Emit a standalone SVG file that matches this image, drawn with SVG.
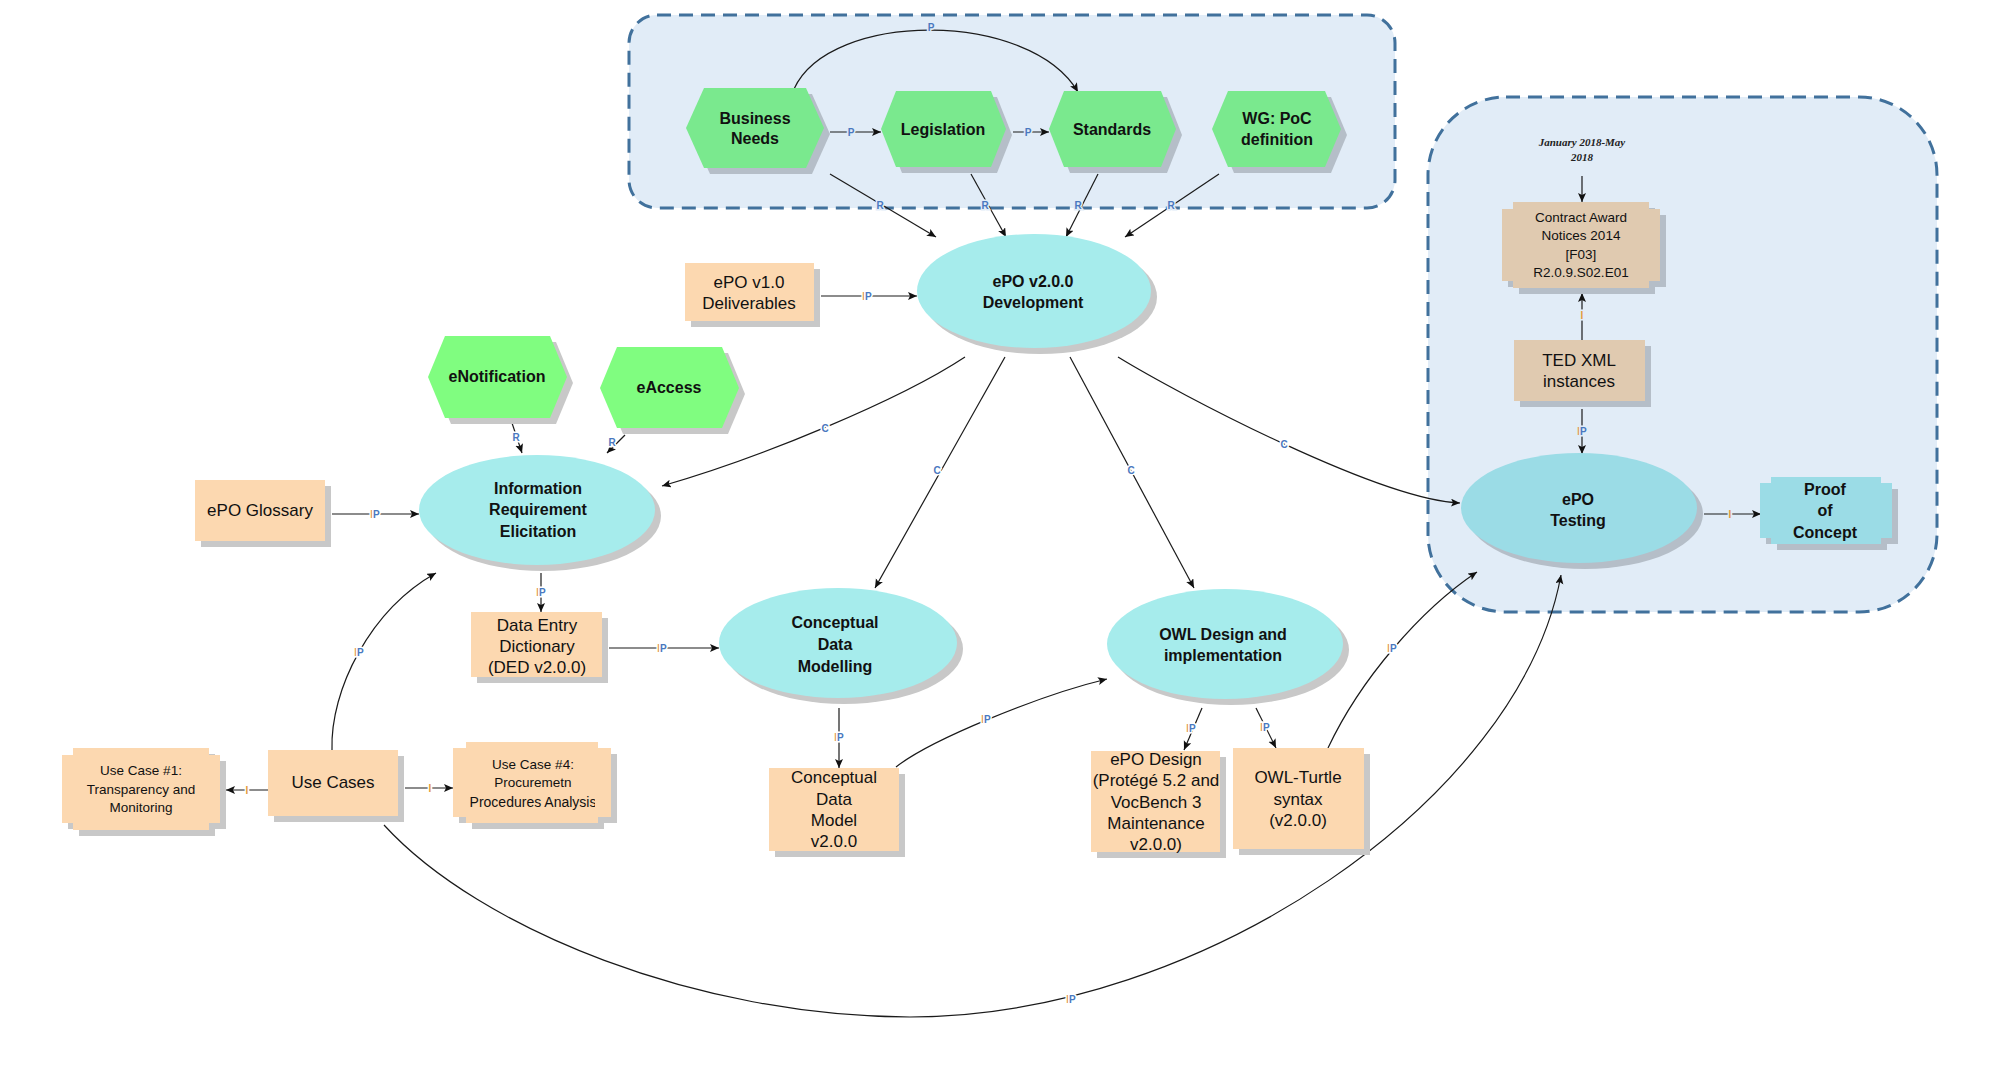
<svg xmlns="http://www.w3.org/2000/svg" width="2000" height="1065" viewBox="0 0 2000 1065">
<defs>
<marker id="arr" markerWidth="10" markerHeight="10" refX="9" refY="4" orient="auto" markerUnits="userSpaceOnUse"><path d="M0,0 L9,4 L0,8 L2,4 z" fill="#111"/></marker>
<clipPath id="uc4clip"><rect x="453" y="742" width="142" height="81"/></clipPath>
</defs>
<style>
.t{font-family:"Liberation Sans",Arial,sans-serif;fill:#111;text-anchor:middle;dominant-baseline:central}
.b{font-weight:bold;font-size:16px}
.r{font-size:17px}
.s{font-size:13.5px}
.xs{font-size:13.5px}
.uc{font-size:14px}
.jan{font-family:"Liberation Serif","Times New Roman",serif;font-style:italic;font-weight:bold;font-size:11px;fill:#222;text-anchor:middle;dominant-baseline:central}
.grp{fill:#E1ECF7;stroke:#41719C;stroke-width:3;stroke-dasharray:14 8}
.hexT{fill:#7AE98E}
.hexE{fill:#80FD80}
.shW{fill:#C8C8C8}
.shB{fill:#B5BEC8}
.ell{fill:#A6ECEC}
.ellT{fill:#9BDCE6}
.peach{fill:#FCD8B0}
.tan{fill:#E0CAB0}
.c{stroke:#1a1a1a;stroke-width:1.2;fill:none;marker-end:url(#arr)}
.l{font-family:"Liberation Sans",Arial,sans-serif;font-size:10px;font-weight:bold;fill:#4a78c0;text-anchor:middle;dominant-baseline:central;stroke:#fff;stroke-width:3;paint-order:stroke}
.lb{stroke:#E1ECF7}
.o{fill:#E39A3B}
</style>

<g id="groups">
<rect id="grp-top" class="grp" x="629" y="15" width="766" height="193" rx="28"/>
<rect id="grp-right" class="grp" x="1428" y="97" width="509" height="515" rx="78"/>
</g>

<g id="connectors">
<path class="c" d="M830,132 H881"/>
<path class="c" d="M1013,132 H1049"/>
<path class="c" d="M794,89 C830,10 1030,10 1078,92"/>
<path class="c" d="M830,174 L936,237"/>
<path class="c" d="M971,174 L1006,237"/>
<path class="c" d="M1098,174 L1066,237"/>
<path class="c" d="M1219,174 L1125,237"/>
<path class="c" d="M821,296 H917"/>
<path class="c" d="M965,357 C900,400 760,458 662,486"/>
<path class="c" d="M1005,357 L875,588"/>
<path class="c" d="M1070,357 L1194,588"/>
<path class="c" d="M1118,357 C1180,395 1380,500 1460,503"/>
<path class="c" d="M332,514 H419"/>
<path class="c" d="M512,423 L522,453"/>
<path class="c" d="M625,435 L607,453"/>
<path class="c" d="M541,573 V612"/>
<path class="c" d="M609,648 H719"/>
<path class="c" d="M332,750 C330,690 370,610 436,573"/>
<path class="c" d="M268,790 H226"/>
<path class="c" d="M405,788 H453"/>
<path class="c" d="M839,708 V768"/>
<path class="c" d="M896,767 C930,740 1040,695 1107,679"/>
<path class="c" d="M1202,708 L1184,750"/>
<path class="c" d="M1256,708 L1276,748"/>
<path class="c" d="M1328,748 C1360,680 1420,610 1477,572"/>
<path class="c" d="M384,825 C480,930 700,1017 910,1017 C1200,1017 1520,800 1561,575"/>
<path class="c" d="M1582,176 V202"/>
<path class="c" d="M1582,340 V293"/>
<path class="c" d="M1582,409 V454"/>
<path class="c" d="M1704,514 H1761"/>

<text class="l lb" x="851" y="132">P</text>
<text class="l lb" x="1028" y="132">P</text>
<text class="l lb" x="931" y="27">P</text>
<text class="l lb" x="880" y="205">R</text>
<text class="l lb" x="985" y="205">R</text>
<text class="l lb" x="1078" y="205">R</text>
<text class="l lb" x="1171" y="205">R</text>
<text class="l" x="867" y="296"><tspan class="o">I</tspan>P</text>
<text class="l" x="825" y="428">C</text>
<text class="l" x="937" y="470">C</text>
<text class="l" x="1131" y="470">C</text>
<text class="l" x="1284" y="444">C</text>
<text class="l" x="375" y="514"><tspan class="o">I</tspan>P</text>
<text class="l" x="516" y="437">R</text>
<text class="l" x="612" y="442">R</text>
<text class="l" x="541" y="592"><tspan class="o">I</tspan>P</text>
<text class="l" x="662" y="648"><tspan class="o">I</tspan>P</text>
<text class="l" x="359" y="652"><tspan class="o">I</tspan>P</text>
<text class="l o" x="247" y="790">I</text>
<text class="l o" x="430" y="788">I</text>
<text class="l" x="839" y="737"><tspan class="o">I</tspan>P</text>
<text class="l" x="986" y="719"><tspan class="o">I</tspan>P</text>
<text class="l" x="1191" y="728"><tspan class="o">I</tspan>P</text>
<text class="l" x="1265" y="727"><tspan class="o">I</tspan>P</text>
<text class="l" x="1392" y="648"><tspan class="o">I</tspan>P</text>
<text class="l" x="1071" y="999"><tspan class="o">I</tspan>P</text>
<text class="l lb o" x="1582" y="315">I</text>
<text class="l lb" x="1582" y="431"><tspan class="o">I</tspan>P</text>
<text class="l lb o" x="1730" y="514">I</text>
</g>

<g id="business-needs">
<polygon class="shB" transform="translate(6,6)" points="704,88 806,88 824,128 806,168 704,168 686,128"/>
<polygon class="hexT" points="704,88 806,88 824,128 806,168 704,168 686,128"/>
<text class="t b" x="755" y="118">Business</text>
<text class="t b" x="755" y="138">Needs</text>
</g>
<g id="legislation">
<polygon class="shB" transform="translate(6,6)" points="896,91 991,91 1006,129 991,167 896,167 881,129"/>
<polygon class="hexT" points="896,91 991,91 1006,129 991,167 896,167 881,129"/>
<text class="t b" x="943" y="129">Legislation</text>
</g>
<g id="standards">
<polygon class="shB" transform="translate(6,6)" points="1064,91 1161,91 1176,129 1161,167 1064,167 1049,129"/>
<polygon class="hexT" points="1064,91 1161,91 1176,129 1161,167 1064,167 1049,129"/>
<text class="t b" x="1112" y="129">Standards</text>
</g>
<g id="wg-poc">
<polygon class="shB" transform="translate(6,6)" points="1228,91 1325,91 1341,129 1325,167 1228,167 1212,129"/>
<polygon class="hexT" points="1228,91 1325,91 1341,129 1325,167 1228,167 1212,129"/>
<text class="t b" x="1277" y="118">WG: PoC</text>
<text class="t b" x="1277" y="139">definition</text>
</g>

<g id="epo-v1">
<rect class="shW" x="691" y="269" width="129" height="58"/>
<rect class="peach" x="685" y="263" width="129" height="58"/>
<text class="t r" x="749" y="282">ePO v1.0</text>
<text class="t r" x="749" y="303">Deliverables</text>
</g>
<g id="epo-v2">
<ellipse class="shW" cx="1040" cy="297" rx="117" ry="57"/>
<ellipse class="ell" cx="1034" cy="291" rx="117" ry="57"/>
<text class="t b" x="1033" y="281">ePO v2.0.0</text>
<text class="t b" x="1033" y="302">Development</text>
</g>

<g id="enotification">
<polygon class="shW" transform="translate(6,6)" points="445,336 550,336 567,377 550,418 445,418 428,377"/>
<polygon class="hexE" points="445,336 550,336 567,377 550,418 445,418 428,377"/>
<text class="t b" x="497" y="376">eNotification</text>
</g>
<g id="eaccess">
<polygon class="shW" transform="translate(6,6)" points="617,347 722,347 739,388 722,428 617,428 600,388"/>
<polygon class="hexE" points="617,347 722,347 739,388 722,428 617,428 600,388"/>
<text class="t b" x="669" y="387">eAccess</text>
</g>

<g id="epo-glossary">
<rect class="shW" x="201" y="486" width="130" height="61"/>
<rect class="peach" x="195" y="480" width="130" height="61"/>
<text class="t r" x="260" y="510">ePO Glossary</text>
</g>
<g id="ire">
<ellipse class="shW" cx="543" cy="516" rx="118" ry="55"/>
<ellipse class="ell" cx="537" cy="510" rx="118" ry="55"/>
<text class="t b" x="538" y="488">Information</text>
<text class="t b" x="538" y="509">Requirement</text>
<text class="t b" x="538" y="531">Elicitation</text>
</g>
<g id="ded">
<rect class="shW" x="477" y="618" width="131" height="65"/>
<rect class="peach" x="471" y="612" width="131" height="65"/>
<text class="t r" x="537" y="625">Data Entry</text>
<text class="t r" x="537" y="646">Dictionary</text>
<text class="t r" x="537" y="667">(DED v2.0.0)</text>
</g>
<g id="cdm">
<ellipse class="shW" cx="844" cy="649" rx="119" ry="55"/>
<ellipse class="ell" cx="838" cy="643" rx="119" ry="55"/>
<text class="t b" x="835" y="622">Conceptual</text>
<text class="t b" x="835" y="644">Data</text>
<text class="t b" x="835" y="666">Modelling</text>
</g>
<g id="owl">
<ellipse class="shW" cx="1231" cy="650" rx="118" ry="55"/>
<ellipse class="ell" cx="1225" cy="644" rx="118" ry="55"/>
<text class="t b" x="1223" y="634">OWL Design and</text>
<text class="t b" x="1223" y="655">implementation</text>
</g>

<g id="use-cases">
<rect class="shW" x="274" y="756" width="130" height="66"/>
<rect class="peach" x="268" y="750" width="130" height="66"/>
<text class="t r" x="333" y="782">Use Cases</text>
</g>
<g id="use-case-1">
<path class="shW" transform="translate(6,6)" d="M73,748 H209 V755 H220 V823 H209 V830 H73 V823 H62 V755 H73 Z"/>
<path class="peach" d="M73,748 H209 V755 H220 V823 H209 V830 H73 V823 H62 V755 H73 Z"/>
<text class="t xs" x="141" y="770">Use Case #1:</text>
<text class="t xs" x="141" y="789">Transparency and</text>
<text class="t xs" x="141" y="807">Monitoring</text>
</g>
<g id="use-case-4">
<path class="shW" transform="translate(6,6)" d="M466,742 H598 V748 H611 V817 H598 V823 H466 V817 H453 V748 H466 Z"/>
<path class="peach" d="M466,742 H598 V748 H611 V817 H598 V823 H466 V817 H453 V748 H466 Z"/>
<g clip-path="url(#uc4clip)">
<text class="t xs" x="533" y="764">Use Case #4:</text>
<text class="t xs" x="533" y="782">Procuremetn</text>
<text class="t uc" x="533" y="802">Procedures Analysis</text>
</g>
</g>
<g id="cd-model">
<rect class="shW" x="775" y="774" width="130" height="83"/>
<rect class="peach" x="769" y="768" width="130" height="83"/>
<text class="t r" x="834" y="777">Conceptual</text>
<text class="t r" x="834" y="799">Data</text>
<text class="t r" x="834" y="820">Model</text>
<text class="t r" x="834" y="841">v2.0.0</text>
</g>
<g id="epo-design">
<rect class="shW" x="1097" y="757" width="129" height="101"/>
<rect class="peach" x="1091" y="751" width="129" height="101"/>
<text class="t r" x="1156" y="759">ePO Design</text>
<text class="t r" x="1156" y="780">(Protégé 5.2 and</text>
<text class="t r" x="1156" y="802">VocBench 3</text>
<text class="t r" x="1156" y="823">Maintenance</text>
<text class="t r" x="1156" y="844">v2.0.0)</text>
</g>
<g id="owl-turtle">
<rect class="shW" x="1239" y="754" width="131" height="101"/>
<rect class="peach" x="1233" y="748" width="131" height="101"/>
<text class="t r" x="1298" y="777">OWL-Turtle</text>
<text class="t r" x="1298" y="799">syntax</text>
<text class="t r" x="1298" y="820">(v2.0.0)</text>
</g>

<g id="january-note">
<text class="jan" x="1582" y="142">January 2018-May</text>
<text class="jan" x="1582" y="157">2018</text>
</g>
<g id="contract-award">
<path class="shB" transform="translate(6,6)" d="M1513,202 H1649 V209 H1660 V281 H1649 V288 H1513 V281 H1502 V209 H1513 Z"/>
<path class="tan" d="M1513,202 H1649 V209 H1660 V281 H1649 V288 H1513 V281 H1502 V209 H1513 Z"/>
<text class="t s" x="1581" y="217">Contract Award</text>
<text class="t s" x="1581" y="235">Notices 2014</text>
<text class="t s" x="1581" y="254">[F03]</text>
<text class="t s" x="1581" y="272">R2.0.9.S02.E01</text>
</g>
<g id="ted-xml">
<rect class="shB" x="1520" y="346" width="131" height="61"/>
<rect class="tan" x="1514" y="340" width="131" height="61"/>
<text class="t r" x="1579" y="360">TED XML</text>
<text class="t r" x="1579" y="381">instances</text>
</g>
<g id="epo-testing">
<ellipse class="shB" cx="1585" cy="514" rx="118" ry="55"/>
<ellipse class="ellT" cx="1579" cy="508" rx="118" ry="55"/>
<text class="t b" x="1578" y="499">ePO</text>
<text class="t b" x="1578" y="520">Testing</text>
</g>
<g id="proof-of-concept">
<path class="shB" transform="translate(6,6)" d="M1771,477 H1881 V483 H1892 V538 H1881 V544 H1771 V538 H1760 V483 H1771 Z"/>
<path class="ellT" d="M1771,477 H1881 V483 H1892 V538 H1881 V544 H1771 V538 H1760 V483 H1771 Z"/>
<text class="t b" x="1825" y="489">Proof</text>
<text class="t b" x="1825" y="510">of</text>
<text class="t b" x="1825" y="532">Concept</text>
</g>
</svg>
